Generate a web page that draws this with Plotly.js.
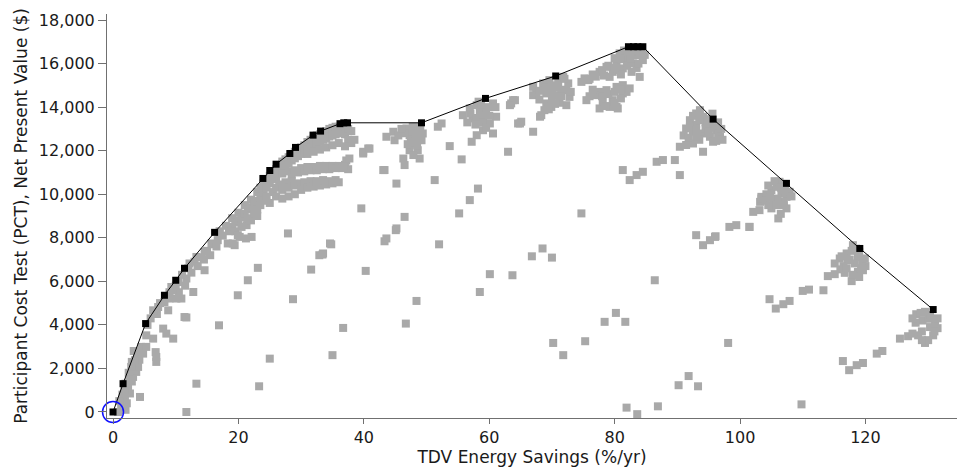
<!DOCTYPE html>
<html>
<head>
<meta charset="utf-8">
<script src="https://cdn.plot.ly/plotly-3.0.1.min.js"></script>
<style>
html,body{margin:0;padding:0;background:#fff;}
#chart{width:957px;height:468px;}
</style>
</head>
<body>
<div id="chart"></div>
<script>
// Pareto front (black squares joined by a line)
const frontX = [0, 1.6, 5.2, 8.2, 10.0, 11.4, 16.2, 23.9, 25.0, 26.0, 28.2, 29.1, 31.9, 33.1, 36.2, 36.8, 37.4, 49.2, 59.4, 70.6, 82.2, 83.0, 83.7, 84.5, 95.7, 107.4, 119.1, 130.8];
const frontY = [0, 1300, 4060, 5360, 6050, 6600, 8250, 10725, 11090, 11380, 11870, 12150, 12715, 12900, 13240, 13280, 13280, 13280, 14400, 15430, 16775, 16775, 16775, 16775, 13450, 10500, 7510, 4705];

// All evaluated designs (gray squares): [TDV savings %/yr, NPV $]
const grayPoints = [
 // lower-left band
 [0.8,0],[1.3,230],[1.9,540],[2.2,400],[2.7,850],[1.5,800],[2.0,1300],[2.4,1150],[3.0,1400],[3.2,1610],[3.7,1840],[3.5,1900],[2.5,1800],
 [1.0,500],[1.8,1000],[2.6,1500],[3.0,2300],[3.9,2600],[4.2,2400],[3.3,2800],[2.0,100],
 [4.0,2070],[2.9,2070],[3.5,2380],[4.3,690],[4.3,2760],[4.8,2680],[4.5,2990],[5.3,2990],[6.9,2530],[6.9,2300],[6.8,2750],
 [5.3,3520],[6.4,3370],[8.0,3830],[8.5,3600],[9.6,3370],[5.5,4000],[6.0,4300],[7.0,4500],[6.4,4670],[7.2,4820],[8.2,5050],
 [7.5,5000],[8.5,5300],[9.0,5210],[10.1,5210],[10.9,5210],[8.8,4670],[11.4,4360],[9.3,5740],[9.0,5500],[10.5,5500],[9.5,5600],
 [10.0,5800],[10.4,5970],[11.5,5800],[11.7,6130],[11.0,6300],[12.8,5510],[12.0,6600],[12.5,6400],[12.2,6820],[13.0,6900],
 [13.5,6700],[13.3,7120],[14.0,7100],[14.6,6510],[14.5,7000],[14.6,7350],[15.0,7400],[15.5,7200],[15.7,7740],[16.0,7700],
 [16.5,7600],[16.7,7890],[17.0,8200],[18.3,7740],[19.4,7660],[19.1,7740],[20.2,8040],[22.1,8040],[21.3,8580],
 [11.7,4340],[16.9,3980],[13.3,1300],[11.7,0],
 // main cluster upper band
 [17,8300],[17.5,8100],[18,8550],[18.5,8300],[19,8900],[19,8500],[19.5,8700],[19.5,8300],[20,9150],[20,8800],[20.5,8950],[20.5,8500],
 [21,9500],[21,9100],[21.5,9300],[21.5,8900],[22,9750],[22,9400],[22,8800],[22.5,9600],[22.5,9100],[23,10100],[23,9700],[23,9000],
 [23.5,10300],[23.5,9900],[24,10500],[24,10100],[24.5,10700],[24.5,10300],[25,10850],[25,10500],[25.5,11050],[25.5,10700],
 [26,11150],[26,10850],[26.5,11300],[26.5,11000],[27,11500],[27,11150],[27.5,11600],[27.5,11300],[28,11700],[28,11400],
 [28.5,11850],[28.5,11550],[29,11950],[29,11650],[29.5,12050],[29.5,11750],[30,12150],[30,11850],[30.5,12250],[30.5,11950],
 [31,12400],[31,12050],[31.5,12500],[31.5,12150],[32,12550],[32,12250],[32.5,12700],[32.5,12350],[33,12750],[33,12400],
 [33.5,12850],[33.5,12500],[34,12900],[34,12550],[34.5,13000],[34.5,12650],[35,13050],[35,12700],[35.5,13100],[35.5,12750],
 [36,13100],[36,12800],[36.5,13150],[36.5,12850],[37,13100],[37,12750],[37.5,13000],[37.5,12500],[38,12900],[38,12350],
 [31,11850],[32,11950],[33,12050],[34,12150],[35,12250],[36,12350],[37,12200],[38.5,12500],
 // main cluster middle band
 [26,10700],[27,10950],[28,11050],[28.5,10900],[29,11100],[29.5,11000],[30,11200],[30.5,11050],[31,11250],[31.5,11100],
 [32,11250],[32.5,11100],[33,11300],[33.5,11150],[34,11300],[34.5,11150],[35,11300],[35.5,11200],[36,11300],[36.5,11200],
 [37,11350],[37.5,11150],[37.2,11550],[37.7,11640],[36.7,11260],
 // main cluster lower band
 [23,9300],[23.5,9500],[24,9700],[24.5,9900],[25,9600],[25.5,10100],[26,10300],[26,9900],[26.5,10450],[27,10200],[27,9800],
 [27.5,10550],[28,10300],[28,9900],[28.5,10600],[29,10400],[29,10000],[29.5,10500],[30,10200],[30.5,10550],[31,10300],
 [31.5,10600],[32,10350],[32.5,10600],[33,10400],[33.5,10650],[34,10450],[34.5,10600],[35,10500],[35.5,10650],[36,10550],
 // scattered 20-60
 [27.9,8200],[34.6,7740],[33.5,7280],[39.6,9350],[39.9,11950],[40.7,12100],[39.9,11870],[43.3,11110],
 [19.9,5360],[21.5,6050],[23.1,6620],[19.9,8120],[21.2,7970],[28.7,5180],[31.6,6540],[32.9,7200],[23.3,1180],[25.0,2450],
 [33.4,7230],[34.8,7700],[36.7,3860],[35.0,2610],[40.3,6480],[43.3,7840],[43.6,7970],[45.1,8350],[45.2,8430],[46.5,8960],
 [48.4,5100],[46.7,4060],[52.0,7700],[55.2,9120],[56.9,9730],[58.2,10260],[51.3,10650],[45.2,10490],[43.1,11110],
 // cluster near 49
 [46.8,13020],[47.8,13100],[47.3,12710],[48.6,12640],[49.4,12790],[48.1,12330],[49.2,12480],[47.3,12020],[48.6,12020],
 [46.3,11640],[48.9,11640],[46.5,11340],[44.7,12870],[43.6,12640],[44.9,12480],[48.0,12900],[48.8,13050],[47.9,11800],
 [47.5,12500],[48.3,12800],[46.5,12800],[45.5,12700],[47,12300],[48.5,12250],[49,13100],[46,13000],
 [40.9,12100],[51.8,13100],[52.4,13250],[53.7,12210],[55.6,11600],
 // cluster near 59
 [55.8,13630],[56.9,13940],[58.0,14090],[58.5,13790],[57.4,13480],[59.5,13860],[60.6,14170],[61.1,13560],[60.1,13250],
 [59.0,12940],[58.0,12710],[57.2,12410],[60.6,12790],[59.0,13600],[59.8,14000],[58.3,14250],[63.0,11950],[63.8,14320],
 [57,13700],[58,13500],[59,13300],[60,13600],[58.7,14100],[57.8,13200],[59.5,13050],[61,14000],[56.5,13300],
 [63.5,14170],[64.6,13250],[64.9,13250],[64.1,14320],[63.3,14090],[65.1,13330],[67.0,12870],[68.1,13560],
 // cluster near 70
 [67.0,14930],[68.6,15090],[69.6,15240],[71.8,15390],[72.6,15090],[67.5,14630],[69.1,14630],[70.7,14550],[72.3,14780],
 [72.8,14470],[69.1,14170],[72.3,14090],[69.9,14010],[68.8,13860],[68.3,13630],[67.0,14550],[70.5,14900],[71.5,14800],
 [70.0,14350],[71.2,14200],[68,14750],[69,14900],[70,15000],[71,15100],[72,15300],[68,14350],[70,14650],[71.5,14500],
 [69.5,13900],[70.5,14150],[73,14700],
 // cluster near 83
 [75.2,15320],[74.7,15160],[75.8,15240],[77.6,15620],[78.7,15850],[80.3,16010],[81.9,16310],[83.5,16390],[84.5,16160],
 [82.9,16010],[81.3,15780],[79.7,15620],[82.7,15620],[79.2,15390],[84.0,15390],[82.4,16620],[80.8,16470],[84.3,16620],
 [83.2,16550],[81.5,16600],[82.0,16050],[80.7,15700],[78.3,15450],[76.5,15500],
 [83,16600],[84,16400],[82,16400],[81,16200],[80,16250],[79,15900],[78,15700],[77,15400],[76,15300],[81,15500],
 [80,15800],[82,15900],[83.5,15800],[84.8,16400],[83.8,16000],[82.5,16250],
 [75.5,14320],[76.6,14630],[77.6,14700],[78.7,14780],[80.3,14930],[81.3,15010],[81.9,14700],[77.6,13940],[79.2,14010],
 [80.5,13940],[78.1,14240],[79.7,14320],[81.3,14630],[82.4,14860],[80.3,14010],
 [76,14500],[77,14550],[78,14500],[79,14600],[80,14700],[81,14800],[78.5,14050],[80,14200],[81,14400],[76.5,14800],
 [81.3,11110],[82.4,10650],[83.5,10880],[84.5,11030],[86.7,11490],[74.7,9120],
 // scattered 55-100
 [58.5,5510],[60.1,6330],[63.7,6280],[66.8,7150],[68.5,7510],[70.0,7090],[70.2,3170],[71.8,2610],[75.3,3250],[78.4,4140],
 [80.2,4550],[81.7,4140],[81.9,200],[83.6,-100],[86.4,6050],[86.9,260],[90.2,1230],[91.8,1650],[93.3,1180],[98.1,3170],
 [93.0,8120],[94.1,7660],[95.2,7890],[96.1,8070],[96.0,8040],[98.3,8500],[99.4,8580],[101.5,8500],
 // cluster near 95
 [92.0,13400],[93.0,13710],[94.1,13560],[95.2,13170],[96.2,12940],[96.8,12640],[93.6,13860],[91.4,13020],[92.5,12870],
 [94.1,12790],[95.2,12640],[90.4,12180],[91.4,12260],[92.5,12330],[94.1,11950],[95.7,12410],[87.7,11570],[89.6,11570],
 [90.4,10880],[93.0,13200],[94.5,13300],[95.6,13700],[96.5,13300],[91.0,12700],[93.5,12500],
 [92.5,13600],[93.5,13400],[94.8,13450],[95.8,13050],[96.5,12800],[97.2,12500],[92,13100],[93,12950],[94.5,13000],
 [91.8,12600],[93,12650],[96.2,12450],[95,12900],[97,13000],
 // cluster near 107
 [105.0,10190],[105.8,10340],[106.6,10030],[107.4,9880],[107.9,10110],[106.3,10570],[103.4,9880],[103.2,9650],[102.1,9190],
 [103.1,9270],[105.0,9350],[106.1,8890],[107.4,9350],[101.5,8500],[105.3,9650],[106.9,9650],[103.4,9800],[104.2,10000],
 [104.5,9500],[106.0,9800],[104.5,10400],[105.5,10600],[106.5,10300],[107.2,10200],[108.2,9900],[104,9700],[105.8,9500],
 [106.5,9100],[107,9500],[104.8,9850],
 [104.7,5180],[105.7,4750],[106.9,4950],[107.9,5100],[110.0,5560],[111.0,5620],[113.3,5590],[109.8,350],
 // cluster near 119
 [115.1,6820],[115.9,7050],[117.0,7280],[118.0,7660],[118.8,7120],[119.9,7050],[114.0,6240],[115.1,6330],[116.7,6390],
 [117.8,6010],[118.8,6430],[119.6,6510],[117.2,6970],[118.3,6820],[119.0,7350],[116.5,6700],[117.8,7400],[119.5,6800],
 [116,6550],[117,6600],[118,6300],[119,6200],[120,6700],[117.5,7000],[118.5,7500],[116.2,7150],[119.3,6600],
 [116.4,2340],[117.4,1920],[118.6,2150],[119.6,2250],[121.8,2680],[122.7,2800],
 // cluster near 131
 [125.5,3370],[126.8,3480],[128.4,3520],[129.5,3170],[130.8,3520],[131.1,4180],[128.1,4490],[129.1,4200],[130.3,3900],
 [130.0,4280],[128.8,4550],[130.3,4450],[131.5,3850],[129.0,3700],
 [128,4100],[129.5,4600],[131.5,4300],[127.5,3600],[130,3300],[131,3700],[129,3300],[127.5,4300]
];

// Selected design (blue circle)
const selX = [0];
const selY = [0];

const grayX = grayPoints.map(p => p[0]);
const grayY = grayPoints.map(p => p[1]);

const txtColor = '#1a1a1a';
const axColor = '#707070';
const fontFam = 'DejaVu Sans, Verdana, sans-serif';

const traces = [
  {x: grayX, y: grayY, type: 'scatter', mode: 'markers',
   marker: {symbol: 'square', size: 8, color: '#a9a9a9', line: {width: 0}}, hoverinfo: 'x+y'},
  {x: frontX, y: frontY, type: 'scatter', mode: 'lines+markers',
   line: {color: '#000', width: 1},
   marker: {symbol: 'square', size: 7, color: '#000', line: {width: 0}}},
  {x: selX, y: selY, type: 'scatter', mode: 'markers', cliponaxis: false,
   marker: {symbol: 'circle-open', size: 21, color: '#1010ff', line: {width: 1.5, color: '#1010ff'}}}
];

const layout = {
  width: 957, height: 468,
  margin: {l: 107, r: 0, t: 14, b: 50},
  paper_bgcolor: '#fff', plot_bgcolor: '#fff',
  showlegend: false,
  font: {family: fontFam, size: 16, color: txtColor},
  xaxis: {
    range: [-0.96, 134.6], dtick: 20, tick0: 0,
    showgrid: false, zeroline: false,
    showline: true, linecolor: axColor, linewidth: 1,
    ticks: 'outside', ticklen: 5, tickcolor: axColor,
    tickfont: {family: fontFam, size: 16, color: txtColor},
    title: {text: 'TDV Energy Savings (%/yr)', font: {family: fontFam, size: 17, color: txtColor}, standoff: 4}
  },
  yaxis: {
    range: [-276, 18277], dtick: 2000, tick0: 0, tickformat: ',d',
    showgrid: false, zeroline: false,
    showline: true, linecolor: axColor, linewidth: 1,
    ticks: 'outside', ticklen: 8, tickcolor: axColor,
    tickfont: {family: fontFam, size: 16, color: txtColor},
    title: {text: 'Participant Cost Test (PCT), Net Present Value ($)', font: {family: fontFam, size: 17, color: txtColor}, standoff: 6}
  }
};

Plotly.newPlot('chart', traces, layout, {staticPlot: true, displayModeBar: false});
</script>
</body>
</html>
